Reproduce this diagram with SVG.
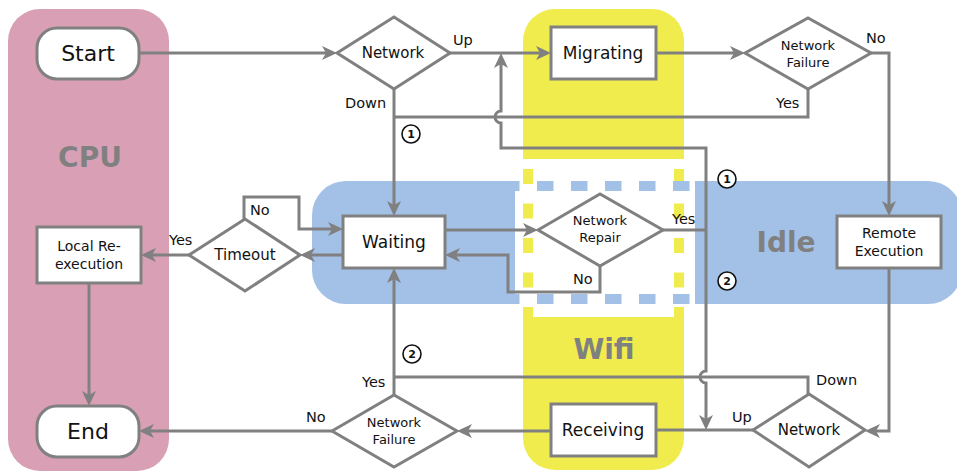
<svg xmlns="http://www.w3.org/2000/svg" width="957" height="472" viewBox="0 0 957 472">
  <style>
    .lane-label { font-family: "DejaVu Sans", sans-serif; font-weight: bold; font-size: 28px; fill: #808080; text-anchor: middle; }
    .box { fill: #ffffff; stroke: #808080; stroke-width: 3; }
    .t { font-family: "DejaVu Sans", sans-serif; fill: #111111; text-anchor: middle; }
    .big { font-size: 22px; }
    .mid { font-size: 17px; }
    .sm { font-size: 14px; }
    .xs { font-size: 13px; }
    .dec { font-size: 15px; }
    .lbl { font-family: "DejaVu Sans", sans-serif; font-size: 14.5px; fill: #111111; }
    .wire { fill: none; stroke: #808080; stroke-width: 3; }
    .arrow { marker-end: url(#head); }
    .mark circle { fill: #ffffff; stroke: #111111; stroke-width: 1.6; }
    .mark text { font-family: "DejaVu Sans", sans-serif; font-weight: bold; font-size: 11px; fill: #111111; text-anchor: middle; }
  </style>
  <defs>
    <marker id="head" markerUnits="userSpaceOnUse" viewBox="-16 -8 20 16" refX="-4" refY="0" markerWidth="20" markerHeight="16" orient="auto">
      <path d="M0,0 L-15,-7 L-11,0 L-15,7 Z" fill="#808080"/>
    </marker>
  </defs>

  <!-- swimlanes -->
  <g id="lanes">
    <rect id="lane-cpu" x="8" y="9" width="161" height="462" rx="32" ry="32" fill="#d9a0b5"/>
    <rect id="lane-wifi" x="523" y="9" width="161" height="461" rx="32" ry="32" fill="#f0ec4e"/>
    <rect id="lane-idle" x="312" y="181" width="650" height="123" rx="34" ry="34" fill="#a3c0e6"/>
    <!-- shared Wifi / Idle zone -->
    <rect x="515" y="159" width="180" height="158" fill="#ffffff"/>
    <path d="M528,159 V317 M679,159 V317" fill="none" stroke="#f0ec4e" stroke-width="10" stroke-dasharray="15 19.5" stroke-dashoffset="24.5"/>
    <path d="M515,186 H695 M515,299 H695" fill="none" stroke="#a3c0e6" stroke-width="10" stroke-dasharray="16.5 17.5" stroke-dashoffset="12"/>
    <text class="lane-label" x="90" y="167">CPU</text>
    <text class="lane-label" x="786" y="252">Idle</text>
    <text class="lane-label" x="604" y="359">Wifi</text>
  </g>

  <!-- connectors -->
  <g id="connectors">
    <path class="wire arrow" d="M140,53 H333"/>
    <path class="wire arrow" d="M450,53 H547"/>
    <path class="wire arrow" d="M656,53 H741"/>
    <path class="wire arrow" d="M871,53 H889 V212"/>
    <path class="wire" d="M808,89 V117 H394"/>
    <path class="wire arrow" d="M394,89 V212"/>
    <path class="wire" d="M663,230 H706"/>
    <path class="wire arrow" d="M706,230 V148 H501 V123 A6,6 0 0 1 501,111 V57"/>
    <path class="wire arrow" d="M706,230 V371 A6,6 0 0 0 706,383 V426"/>
    <path class="wire arrow" d="M445,230 H534"/>
    <path class="wire arrow" d="M600,266 V292 H508 V255 H449"/>
    <path class="wire arrow" d="M343,255 H304"/>
    <path class="wire arrow" d="M244,219 V197 H299 V229 H339"/>
    <path class="wire arrow" d="M189,255 H145"/>
    <path class="wire arrow" d="M89,283 V402"/>
    <path class="wire arrow" d="M889,268 V431 H869"/>
    <path class="wire" d="M753,430 H656"/>
    <path class="wire arrow" d="M551,431 H461"/>
    <path class="wire arrow" d="M332,431 H143"/>
    <path class="wire" d="M808,394 V377 H394"/>
    <path class="wire arrow" d="M394,395 V272"/>

    <!-- branch labels -->
    <text class="lbl" x="453" y="45">Up</text>
    <text class="lbl" x="345" y="108">Down</text>
    <text class="lbl" x="866" y="43">No</text>
    <text class="lbl" x="776" y="108">Yes</text>
    <text class="lbl" x="672" y="224">Yes</text>
    <text class="lbl" x="573" y="284">No</text>
    <text class="lbl" x="250" y="215">No</text>
    <text class="lbl" x="169" y="245">Yes</text>
    <text class="lbl" x="362" y="387">Yes</text>
    <text class="lbl" x="306" y="422">No</text>
    <text class="lbl" x="816" y="385">Down</text>
    <text class="lbl" x="732" y="422">Up</text>

    <g class="mark"><circle cx="411" cy="134" r="9"/><text x="411" y="138">1</text></g>
    <g class="mark"><circle cx="727" cy="179" r="9"/><text x="727" y="183">1</text></g>
    <g class="mark"><circle cx="727" cy="281" r="9"/><text x="727" y="285">2</text></g>
    <g class="mark"><circle cx="412" cy="354" r="9"/><text x="412" y="358">2</text></g>
  </g>

  <!-- nodes -->
  <g id="start">
    <rect class="box" x="37" y="28" width="102" height="51" rx="20" ry="20"/>
    <text class="t big" x="88" y="61">Start</text>
  </g>
  <g id="end">
    <rect class="box" x="37" y="406" width="102" height="51" rx="20" ry="20"/>
    <text class="t big" x="88" y="439">End</text>
  </g>
  <g id="local-reexecution">
    <rect class="box" x="37" y="227" width="104" height="56"/>
    <text class="t sm" x="89" y="251">Local Re-</text>
    <text class="t sm" x="89" y="269">execution</text>
  </g>
  <g id="timeout">
    <polygon class="box" points="189,255 245,219 300,255 245,291"/>
    <text class="t dec" x="245" y="260">Timeout</text>
  </g>
  <g id="waiting">
    <rect class="box" x="343" y="216" width="102" height="52"/>
    <text class="t mid" x="394" y="248">Waiting</text>
  </g>
  <g id="network-top">
    <polygon class="box" points="337,53 394,17 450,53 394,89"/>
    <text class="t dec" x="393" y="58">Network</text>
  </g>
  <g id="migrating">
    <rect class="box" x="551" y="27" width="105" height="52"/>
    <text class="t mid" x="603" y="59">Migrating</text>
  </g>
  <g id="network-failure-top">
    <polygon class="box" points="745,53 808,18 871,53 808,89"/>
    <text class="t xs" x="808" y="50">Network</text>
    <text class="t xs" x="808" y="67">Failure</text>
  </g>
  <g id="remote-execution">
    <rect class="box" x="837" y="216" width="104" height="52"/>
    <text class="t sm" x="889" y="238">Remote</text>
    <text class="t sm" x="889" y="256">Execution</text>
  </g>
  <g id="network-repair">
    <polygon class="box" points="538,230 600,194 663,230 600,266"/>
    <text class="t xs" x="600" y="225">Network</text>
    <text class="t xs" x="600" y="242">Repair</text>
  </g>
  <g id="receiving">
    <rect class="box" x="551" y="404" width="105" height="52"/>
    <text class="t mid" x="603" y="436">Receiving</text>
  </g>
  <g id="network-bottom">
    <polygon class="box" points="753,430 809,394 865,430 809,467"/>
    <text class="t dec" x="809" y="435">Network</text>
  </g>
  <g id="network-failure-bottom">
    <polygon class="box" points="332,431 394,395 457,431 394,467"/>
    <text class="t xs" x="394" y="427">Network</text>
    <text class="t xs" x="394" y="444">Failure</text>
  </g>
</svg>
